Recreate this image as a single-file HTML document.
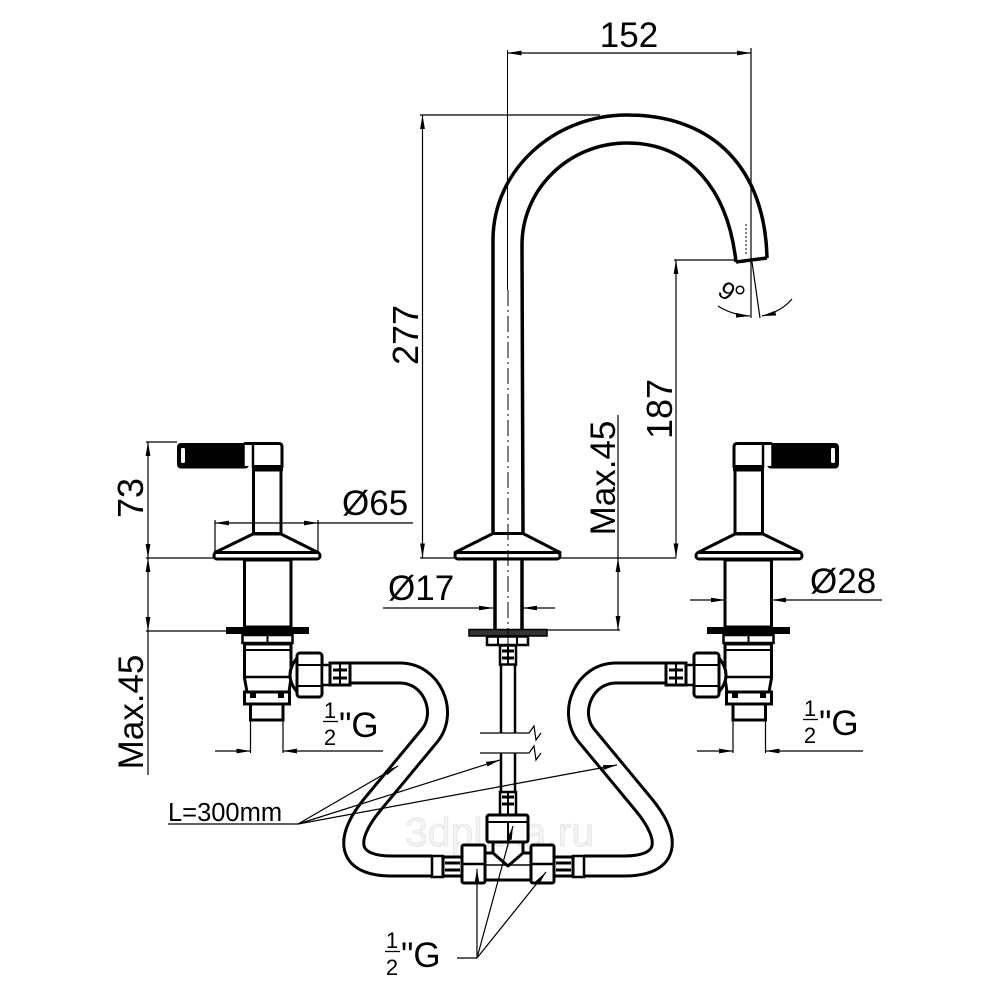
<!DOCTYPE html>
<html><head><meta charset="utf-8"><style>
html,body{margin:0;padding:0;background:#fff;}
svg{display:block;}
text{font-family:"Liberation Sans",Arial,sans-serif;}
</style></head><body>
<svg width="1000" height="1000" viewBox="0 0 1000 1000" xmlns="http://www.w3.org/2000/svg">
<defs>
<marker id="a" viewBox="0 0 14 6" refX="14" refY="3" markerWidth="14" markerHeight="6" orient="auto-start-reverse" markerUnits="userSpaceOnUse"><path d="M0,0.6 L14,3 L0,5.4 z" fill="#000"/></marker>

<g id="valve">
  <rect x="177" y="443" width="72" height="25.5" rx="4" fill="#000"/>
  <rect x="181" y="448" width="4" height="15" rx="1.5" fill="#fff"/>
  <path d="M244,443.5 L279,443.5 Q282,443.5 282,447 L282,468" fill="#fff" stroke="#000" stroke-width="3"/>
  <rect x="244" y="445" width="9" height="21" fill="#fff"/>
  <line x1="244" y1="444.5" x2="244" y2="467" stroke="#000" stroke-width="1.5"/>
  <line x1="253" y1="443" x2="253" y2="468" stroke="#000" stroke-width="2.5"/>
  <rect x="252" y="465" width="31" height="6" fill="#000"/>
  <rect x="253.5" y="470" width="27.5" height="63.5" fill="#fff" stroke="#000" stroke-width="3"/>
  <polygon points="253,534 281,534 318,552.5 215,552.5" fill="#fff" stroke="#000" stroke-width="3" stroke-linejoin="round"/>
  <rect x="214" y="552.5" width="106" height="6.5" rx="3" fill="#fff" stroke="#000" stroke-width="3"/>
  <rect x="244.5" y="560" width="46.5" height="67" fill="#fff" stroke="#000" stroke-width="3"/>
  <rect x="226" y="627" width="83" height="7" fill="#000"/>
  <rect x="242.5" y="635" width="50" height="8" fill="#fff" stroke="#000" stroke-width="2.5"/>
  <line x1="267.5" y1="635" x2="267.5" y2="643" stroke="#000" stroke-width="2"/>
  <path d="M244.5,644 L244.5,678 L247,692 L289,692 L291,678 L291,644 Z" fill="#fff" stroke="#000" stroke-width="3" stroke-linejoin="round"/>
  <line x1="244.5" y1="650" x2="291" y2="650" stroke="#000" stroke-width="2"/>
  <line x1="244.5" y1="677" x2="291" y2="677" stroke="#000" stroke-width="2.5"/>
  <rect x="244.5" y="692" width="45" height="12" fill="#fff" stroke="#000" stroke-width="3"/>
  <rect x="250" y="693" width="6" height="5" fill="#000"/>
  <rect x="278" y="693" width="6" height="5" fill="#000"/>
  <rect x="250.5" y="704" width="32.5" height="16" fill="#fff" stroke="#000" stroke-width="3"/>
  <path d="M297,658 Q283,675 297,692" fill="#fff" stroke="#000" stroke-width="3"/>
  <rect x="297" y="653" width="25" height="44" rx="3" fill="#fff" stroke="#000" stroke-width="3"/>
  <line x1="297" y1="665" x2="322" y2="665" stroke="#000" stroke-width="2"/>
  <line x1="297" y1="686" x2="322" y2="686" stroke="#000" stroke-width="2"/>
  <rect x="322" y="665" width="8" height="20" fill="#fff" stroke="#000" stroke-width="2.5"/>
  <rect x="330" y="663" width="20" height="22" fill="#fff" stroke="#000" stroke-width="3"/>
  <line x1="333" y1="670" x2="347" y2="670" stroke="#000" stroke-width="3"/>
  <line x1="333" y1="678" x2="347" y2="678" stroke="#000" stroke-width="3"/>
  <line x1="340" y1="663" x2="340" y2="685" stroke="#000" stroke-width="2"/>
</g>

<path id="hose" d="M350,673 L400,673 C432,673 448,712 430,735 L372,805 C345,838 345,866 392,866 L432,866" fill="none"/>

<g id="teeside">
  <rect x="432" y="856" width="11" height="21" fill="#fff" stroke="#000" stroke-width="2.5"/>
  <rect x="443" y="857" width="19" height="19" fill="#fff" stroke="#000" stroke-width="3"/>
  <line x1="445" y1="863" x2="460" y2="863" stroke="#000" stroke-width="3"/>
  <line x1="445" y1="870" x2="460" y2="870" stroke="#000" stroke-width="3"/>
  <rect x="462" y="845" width="23" height="38" rx="2" fill="#fff" stroke="#000" stroke-width="3"/>
  <line x1="462" y1="864" x2="485" y2="864" stroke="#000" stroke-width="2.5"/>
</g>
</defs>

<rect width="1000" height="1000" fill="#fff"/>

<!-- watermark -->
<text x="405" y="846" font-size="41" style="fill:#f4f4f4;stroke:#e4e4e4;stroke-width:0.8">3dplitka.ru</text>

<!-- hoses -->
<use href="#hose" stroke="#000" stroke-width="23"/>
<use href="#hose" stroke="#fff" stroke-width="17"/>
<g transform="matrix(-1 0 0 1 1016 0)">
  <use href="#hose" stroke="#000" stroke-width="23"/>
  <use href="#hose" stroke="#fff" stroke-width="17"/>
</g>

<!-- valves -->
<use href="#valve"/>
<g transform="matrix(-1 0 0 1 1016 0)"><use href="#valve"/></g>

<!-- spout -->
<path d="M493,534 L493,240 C493,171 553,115 627,115 C715,115 765,170 767,258" fill="none" stroke="#000" stroke-width="3.5"/>
<path d="M523,534 L522,245 C522,188 570,143 627,143 C690,143 728,190 736,262" fill="none" stroke="#000" stroke-width="3.5"/>
<line x1="736" y1="262" x2="767" y2="258" stroke="#000" stroke-width="3.5"/>
<line x1="746" y1="224" x2="746" y2="255" stroke="#000" stroke-width="1" stroke-dasharray="2,2"/>
<polygon points="493,533.5 523,533.5 560,552.5 455,552.5" fill="#fff" stroke="#000" stroke-width="3" stroke-linejoin="round"/>
<rect x="455" y="552.5" width="105" height="6.5" rx="3" fill="#fff" stroke="#000" stroke-width="3"/>
<line x1="495" y1="560" x2="495" y2="630" stroke="#000" stroke-width="3.5"/>
<line x1="522" y1="560" x2="522" y2="630" stroke="#000" stroke-width="3.5"/>
<rect x="469" y="629.5" width="78" height="6.5" fill="#333" stroke="#000" stroke-width="1.5"/>
<rect x="487" y="636.5" width="41" height="8.5" fill="#fff" stroke="#000" stroke-width="2.5"/>
<line x1="498" y1="637" x2="498" y2="645" stroke="#000" stroke-width="2"/>
<line x1="517" y1="637" x2="517" y2="645" stroke="#000" stroke-width="2"/>
<rect x="500" y="645.5" width="16" height="19" fill="#fff" stroke="#000" stroke-width="2.5"/>
<line x1="502" y1="651" x2="514" y2="651" stroke="#000" stroke-width="3"/>
<line x1="502" y1="658" x2="514" y2="658" stroke="#000" stroke-width="3"/>
<line x1="508" y1="646" x2="508" y2="664" stroke="#000" stroke-width="2"/>
<line x1="501" y1="665" x2="501" y2="733" stroke="#000" stroke-width="2.5"/>
<line x1="515" y1="665" x2="515" y2="733" stroke="#000" stroke-width="2.5"/>
<line x1="501" y1="753" x2="501" y2="792" stroke="#000" stroke-width="2.5"/>
<line x1="515" y1="753" x2="515" y2="792" stroke="#000" stroke-width="2.5"/>
<path d="M480,733 L529,733 L534,726 L536,740 L541,733" fill="none" stroke="#000" stroke-width="1.2"/>
<path d="M480,753 L529,753 L534,746 L536,760 L541,753" fill="none" stroke="#000" stroke-width="1.2"/>
<rect x="500" y="792" width="16" height="23" fill="#fff" stroke="#000" stroke-width="2.5"/>
<line x1="502" y1="797" x2="514" y2="797" stroke="#000" stroke-width="3"/>
<line x1="502" y1="804" x2="514" y2="804" stroke="#000" stroke-width="3"/>
<line x1="508" y1="793" x2="508" y2="814" stroke="#000" stroke-width="2"/>

<!-- tee -->
<use href="#teeside"/>
<g transform="matrix(-1 0 0 1 1016 0)"><use href="#teeside"/></g>
<path d="M485,853 L493,853 L508,866 L523,853 L531,853 L531,880 L485,880 Z" fill="#fff" stroke="#000" stroke-width="3" stroke-linejoin="round"/>
<line x1="493" y1="841" x2="493" y2="853" stroke="#000" stroke-width="3"/>
<line x1="523" y1="841" x2="523" y2="853" stroke="#000" stroke-width="3"/>
<rect x="487" y="815" width="41" height="27" rx="2" fill="#fff" stroke="#000" stroke-width="3"/>
<line x1="487" y1="822" x2="528" y2="822" stroke="#000" stroke-width="2"/>
<line x1="508" y1="822" x2="508" y2="842" stroke="#000" stroke-width="2"/>
<line x1="485" y1="865" x2="531" y2="865" stroke="#000" stroke-width="1.5"/>

<!-- centerline -->
<line x1="507.5" y1="50" x2="507.5" y2="290" stroke="#000" stroke-width="1"/>
<line x1="508" y1="290" x2="508" y2="645" stroke="#000" stroke-width="1" stroke-dasharray="16,4,2,4"/>

<!-- dimension lines -->
<g stroke="#000" stroke-width="1.2" fill="none">
  <line x1="507.5" y1="53" x2="751" y2="53" marker-start="url(#a)" marker-end="url(#a)"/>
  <line x1="751" y1="48" x2="751" y2="318"/>
  <line x1="420" y1="115" x2="600" y2="115"/>
  <line x1="422.5" y1="115" x2="422.5" y2="557.5" marker-start="url(#a)" marker-end="url(#a)"/>
  <line x1="420" y1="558" x2="676" y2="558"/>
  <line x1="674" y1="260" x2="737" y2="260"/>
  <line x1="676" y1="260" x2="676" y2="557.5" marker-start="url(#a)" marker-end="url(#a)"/>
  <line x1="618" y1="415" x2="618" y2="558"/>
  <line x1="618" y1="558" x2="618" y2="630" marker-start="url(#a)" marker-end="url(#a)"/>
  <line x1="547" y1="630" x2="620" y2="630"/>
  <line x1="752" y1="262" x2="760" y2="318"/>
  <path d="M718,306 Q732,315 750,316" marker-end="url(#a)"/>
  <path d="M792,299 Q781,312 762,316" marker-end="url(#a)"/>
  <line x1="383" y1="608" x2="493" y2="608" marker-end="url(#a)"/>
  <line x1="555" y1="608" x2="523" y2="608" marker-end="url(#a)"/>
  <line x1="146" y1="442" x2="177" y2="442"/>
  <line x1="148" y1="442" x2="148" y2="558" marker-start="url(#a)" marker-end="url(#a)"/>
  <line x1="146" y1="558" x2="214" y2="558"/>
  <line x1="148" y1="558" x2="148" y2="631" marker-start="url(#a)" marker-end="url(#a)"/>
  <line x1="146" y1="631" x2="226" y2="631"/>
  <line x1="148" y1="631" x2="148" y2="775"/>
  <line x1="215" y1="520" x2="215" y2="553"/>
  <line x1="318" y1="520" x2="318" y2="553"/>
  <line x1="215" y1="523" x2="318" y2="523" marker-start="url(#a)" marker-end="url(#a)"/>
  <line x1="318" y1="523" x2="413" y2="523"/>
  <line x1="690" y1="600" x2="725" y2="600" marker-end="url(#a)"/>
  <line x1="882" y1="600" x2="772" y2="600" marker-end="url(#a)"/>
  <line x1="250.5" y1="720" x2="250.5" y2="753"/>
  <line x1="283" y1="720" x2="283" y2="753"/>
  <line x1="215" y1="751" x2="250.5" y2="751" marker-end="url(#a)"/>
  <line x1="383" y1="751" x2="283" y2="751" marker-end="url(#a)"/>
  <line x1="733" y1="720" x2="733" y2="753"/>
  <line x1="765.5" y1="720" x2="765.5" y2="753"/>
  <line x1="697" y1="751" x2="733" y2="751" marker-end="url(#a)"/>
  <line x1="863" y1="751" x2="765.5" y2="751" marker-end="url(#a)"/>
  <line x1="168" y1="824" x2="298" y2="824"/>
  <line x1="298" y1="824" x2="398" y2="766" marker-end="url(#a)"/>
  <line x1="298" y1="824" x2="500" y2="760" marker-end="url(#a)"/>
  <line x1="298" y1="824" x2="617" y2="765" marker-end="url(#a)"/>
  <line x1="457" y1="958" x2="477" y2="958"/>
  <line x1="477" y1="958" x2="477" y2="869" marker-end="url(#a)"/>
  <line x1="477" y1="958" x2="513" y2="826" marker-end="url(#a)"/>
  <line x1="477" y1="958" x2="546" y2="872" marker-end="url(#a)"/>
</g>

<!-- texts -->
<g fill="#000">
<text x="629" y="47" font-size="35" text-anchor="middle">152</text>
<text transform="translate(418,335) rotate(-90)" font-size="36" text-anchor="middle">277</text>
<text transform="translate(672,409) rotate(-90)" font-size="36" text-anchor="middle">187</text>
<text transform="translate(615,478) rotate(-90)" font-size="35" text-anchor="middle">Max.45</text>
<text transform="translate(143,498) rotate(-90)" font-size="36" text-anchor="middle">73</text>
<text transform="translate(143,712) rotate(-90)" font-size="35" text-anchor="middle">Max.45</text>
<text x="342" y="515" font-size="35">Ø65</text>
<text x="388" y="600" font-size="35">Ø17</text>
<text x="810" y="593" font-size="35">Ø28</text>
<text x="168" y="821" font-size="25.5">L=300mm</text>
<text transform="translate(722,298) rotate(35)" font-size="25" text-anchor="middle">9</text>

<text x="330" y="718" font-size="22" text-anchor="middle">1</text>
<text x="330" y="745" font-size="22" text-anchor="middle">2</text>
<text x="339" y="737" font-size="35">"G</text>

<text x="810" y="716" font-size="22" text-anchor="middle">1</text>
<text x="810" y="743" font-size="22" text-anchor="middle">2</text>
<text x="819" y="735" font-size="35">"G</text>

<text x="392" y="948" font-size="22" text-anchor="middle">1</text>
<text x="392" y="975" font-size="22" text-anchor="middle">2</text>
<text x="401" y="967" font-size="35">"G</text>
</g>
<circle cx="740" cy="290" r="3.8" fill="none" stroke="#000" stroke-width="1.5"/>
<line x1="323" y1="721.5" x2="338" y2="721.5" stroke="#000" stroke-width="1.3"/>
<line x1="803" y1="719.5" x2="818" y2="719.5" stroke="#000" stroke-width="1.3"/>
<line x1="385" y1="951.5" x2="400" y2="951.5" stroke="#000" stroke-width="1.3"/>
</svg>
</body></html>
